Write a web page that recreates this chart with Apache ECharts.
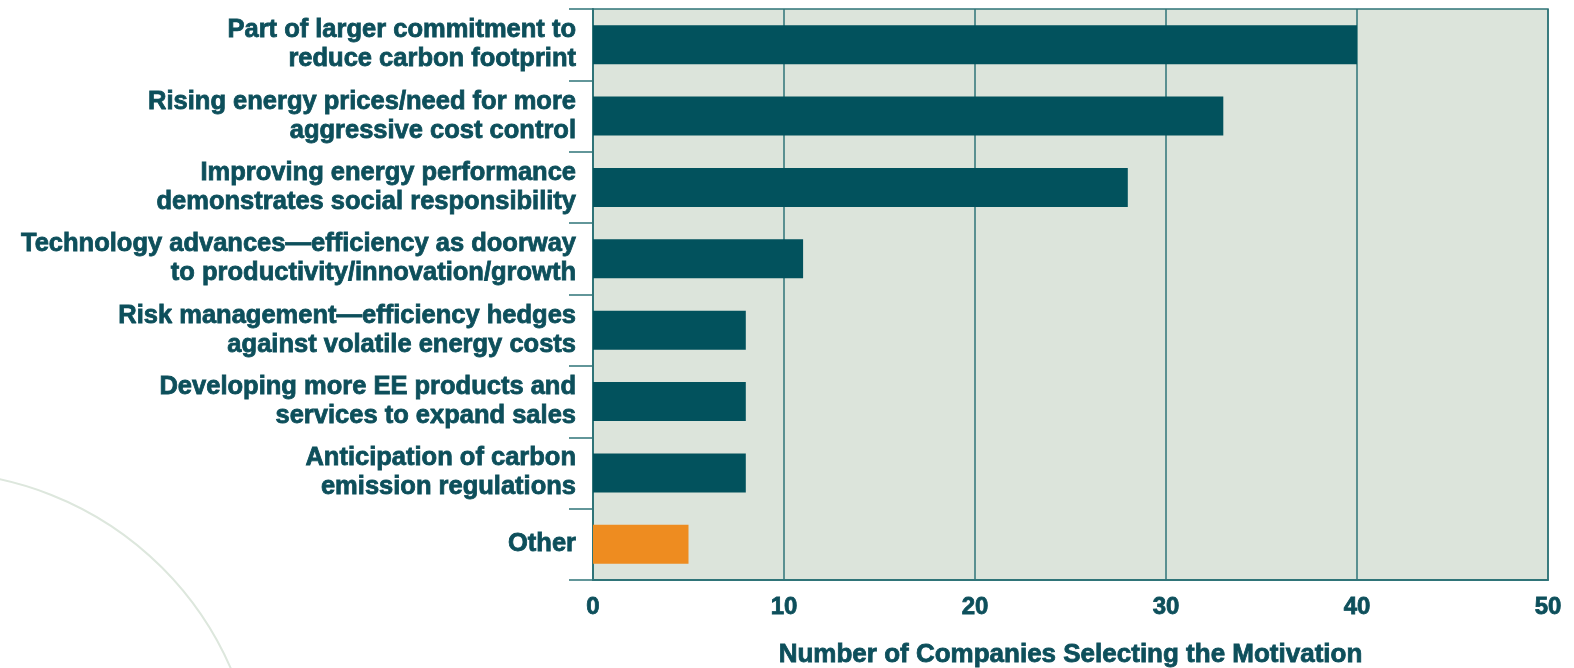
<!DOCTYPE html>
<html>
<head>
<meta charset="utf-8">
<script src="https://cdn.jsdelivr.net/npm/echarts@6/dist/echarts.min.js"></script>
<style>
html,body{margin:0;padding:0;background:#fff;}
#chart{width:1574px;height:668px;}
</style>
</head>
<body>
<div id="chart"></div>
<script>
const categories = [
  "Part of larger commitment to\nreduce carbon footprint",
  "Rising energy prices/need for more\naggressive cost control",
  "Improving energy performance\ndemonstrates social responsibility",
  "Technology advances\u2014efficiency as doorway\nto productivity/innovation/growth",
  "Risk management\u2014efficiency hedges\nagainst volatile energy costs",
  "Developing more EE products and\nservices to expand sales",
  "Anticipation of carbon\nemission regulations",
  "Other"
];
const values = [40, 33, 28, 11, 8, 8, 8, 5];
const highlightCategory = "Other";
const xAxisTitle = "Number of Companies Selecting the Motivation";

const TEXT = '#0D4F5B';
const BAR = '#02525D';
const ORANGE = '#EE8C20';
const LINE = '#2F7478';
const FONT = '"Liberation Sans", Arial, sans-serif';

const chart = echarts.init(document.getElementById('chart'), null, {renderer: 'canvas'});
chart.setOption({
  animation: false,
  graphic: [{
    type: 'circle',
    shape: {cx: -69, cy: 799, r: 327},
    style: {fill: 'none', stroke: '#DDE7DD', lineWidth: 2},
    z: -10
  }],
  grid: {
    left: 593, right: 26, top: 9, bottom: 88,
    containLabel: false, outerBoundsMode: 'none',
    show: true, backgroundColor: '#DCE4DB', borderColor: LINE, borderWidth: 1.5
  },
  xAxis: {
    type: 'value', min: 0, max: 50, interval: 10,
    axisLine: {show: true, lineStyle: {color: LINE, width: 2}},
    axisTick: {show: false},
    splitLine: {show: true, lineStyle: {color: LINE, width: 1.5}},
    axisLabel: {color: TEXT, fontFamily: FONT, fontWeight: 'bold', fontSize: 24, margin: 15,
      textBorderColor: TEXT, textBorderWidth: 0.8},
    name: xAxisTitle, nameLocation: 'middle', nameGap: 62,
    nameTextStyle: {color: TEXT, fontFamily: FONT, fontWeight: 'bold', fontSize: 26,
      textBorderColor: TEXT, textBorderWidth: 0.8}
  },
  yAxis: {
    type: 'category', data: categories, inverse: true,
    axisLine: {show: true, lineStyle: {color: LINE, width: 2}},
    axisTick: {show: true, length: 24, lineStyle: {color: LINE, width: 1.5}},
    axisLabel: {color: TEXT, fontFamily: FONT, fontWeight: 'bold', fontSize: 25.5, lineHeight: 29, margin: 17, align: 'right',
      padding: [4, 0, 0, 0],
      textBorderColor: TEXT, textBorderWidth: 0.8}
  },
  series: [{
    type: 'bar',
    barWidth: 39,
    data: values.map((v, i) => ({
      value: v,
      itemStyle: {color: categories[i] === highlightCategory ? ORANGE : BAR}
    }))
  }]
});
</script>
</body>
</html>
